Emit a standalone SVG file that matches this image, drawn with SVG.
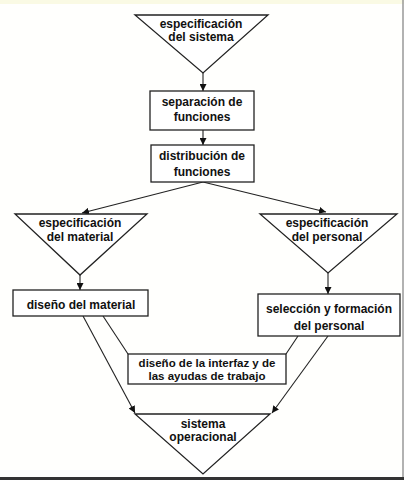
<svg xmlns="http://www.w3.org/2000/svg" width="404" height="480" viewBox="0 0 404 480">
<style>
.s{fill:#fff;stroke:#222;stroke-width:1.3}
.t{font-family:"Liberation Sans",Arial,sans-serif;font-weight:bold;font-size:12px;fill:#111;text-anchor:middle}
.sm{font-size:11.5px}
.c{fill:none;stroke:#222;stroke-width:1.1}
</style>
<defs>
<marker id="ah" viewBox="0 0 10 10" refX="10" refY="5" markerWidth="7" markerHeight="7" orient="auto" markerUnits="userSpaceOnUse">
<path d="M0,0 L10,5 L0,10 z" fill="#111"/>
</marker>
</defs>
<rect x="0" y="0" width="404" height="480" fill="#fffffd"/>
<rect x="0" y="0" width="404" height="4" fill="#fafae4"/>
<line x1="403" y1="0" x2="403" y2="477" stroke="#999" stroke-width="1.5"/>
<rect x="0" y="477" width="404" height="3" fill="#333"/>

<g id="connectors">
<line class="c" x1="203" y1="73" x2="203" y2="91" marker-end="url(#ah)"/>
<line class="c" x1="203" y1="130" x2="203" y2="145" marker-end="url(#ah)"/>
<line class="c" x1="203" y1="182" x2="82" y2="213" marker-end="url(#ah)"/>
<line class="c" x1="203" y1="182" x2="326" y2="212" marker-end="url(#ah)"/>
<line class="c" x1="80" y1="275" x2="80" y2="290" marker-end="url(#ah)"/>
<line class="c" x1="328" y1="273" x2="328" y2="294" marker-end="url(#ah)"/>
<line class="c" x1="83" y1="316" x2="135" y2="413" marker-end="url(#ah)"/>
<line class="c" x1="103" y1="316" x2="128" y2="354"/>
<line class="c" x1="298" y1="336" x2="286" y2="354"/>
<line class="c" x1="328" y1="336" x2="272" y2="413" marker-end="url(#ah)"/>
</g>

<g id="especificacion-sistema">
<polygon class="s" points="135,15 268,15 203,73"/>
<text class="t" x="201" y="28">especificación</text>
<text class="t" x="201" y="41">del sistema</text>
</g>

<g id="separacion-funciones">
<rect class="s" x="150" y="91" width="104" height="39"/>
<text class="t" x="202" y="106">separación de</text>
<text class="t" x="202" y="121">funciones</text>
</g>

<g id="distribucion-funciones">
<rect class="s" x="151" y="145" width="103" height="37"/>
<text class="t" x="202" y="160">distribución de</text>
<text class="t" x="202" y="176">funciones</text>
</g>

<g id="especificacion-material">
<polygon class="s" points="15,214 147,214 80,275"/>
<text class="t" x="80" y="227">especificación</text>
<text class="t" x="80" y="241">del material</text>
</g>

<g id="especificacion-personal">
<polygon class="s" points="260,214 397,214 328,273"/>
<text class="t" x="327" y="227">especificación</text>
<text class="t" x="327" y="241">del personal</text>
</g>

<g id="diseno-material">
<rect class="s" x="13" y="290" width="135" height="26"/>
<text class="t" x="81" y="309">diseño del material</text>
</g>

<g id="seleccion-formacion">
<rect class="s" x="258" y="294" width="142" height="42"/>
<text class="t" x="329" y="313">selección y formación</text>
<text class="t" x="329" y="330">del personal</text>
</g>

<g id="diseno-interfaz">
<rect class="s" x="128" y="354" width="158" height="30"/>
<text class="t sm" x="207" y="367">diseño de la interfaz y de</text>
<text class="t sm" x="207" y="380">las ayudas de trabajo</text>
</g>

<g id="sistema-operacional">
<polygon class="s" points="135,414 270,414 203,474"/>
<text class="t" x="203" y="428">sistema</text>
<text class="t" x="203" y="441">operacional</text>
</g>
</svg>
